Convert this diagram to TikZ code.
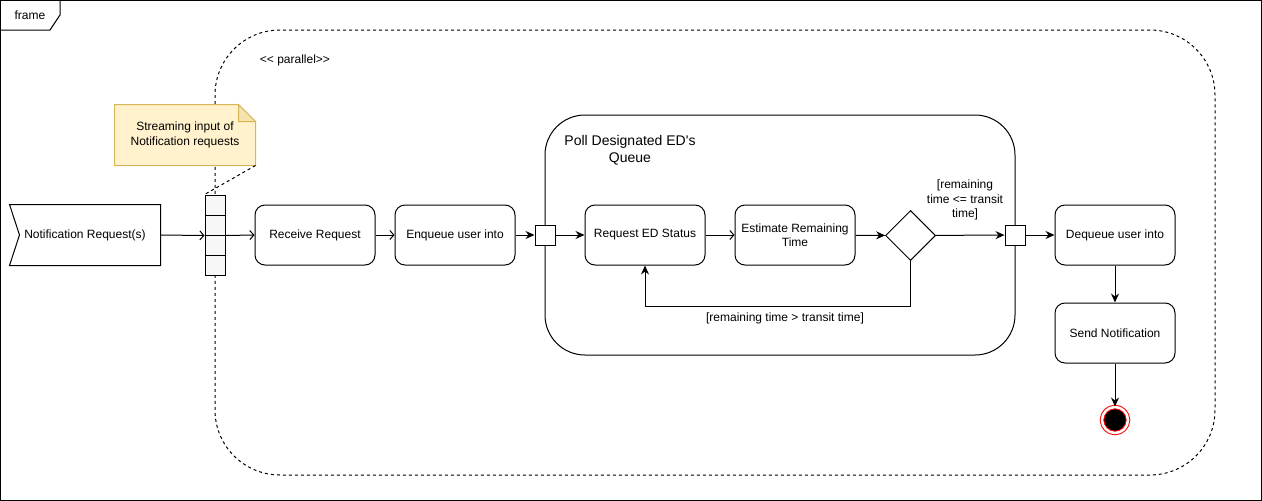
\documentclass[tikz,border=0pt]{standalone}
\usepackage{fontspec}
\setmainfont{Liberation Sans}[Ligatures=TeXOff]
\usetikzlibrary{arrows.meta,shapes.geometric}
\definecolor{notefill}{HTML}{FFF2CC}
\definecolor{noteline}{HTML}{D6B656}
\begin{document}
\begin{tikzpicture}[x=1pt,y=1pt,line width=1pt]
\tikzstyle{every node}+=[inner sep=0pt,font=\fontsize{12}{14.5}\selectfont,align=center]
\tikzstyle{action}=[draw,rectangle,rounded corners=10pt,minimum width=120pt,minimum height=60pt]
\tikzstyle{pinbox}=[draw,fill=white,rectangle,minimum size=20pt]
\tikzstyle{expbox}=[draw,fill=gray!6,rectangle,minimum size=20pt]
\tikzstyle{dash3}=[dash pattern=on 3pt off 3pt]
\tikzstyle{openarr}=[-{Straight Barb[length=4pt,width=9pt]}]
\tikzstyle{fillarr}=[-{Stealth[length=9pt,width=8pt,inset=3pt]}]
\useasboundingbox (0,0) rectangle (1262,-501);
\node [draw,minimum width=1261pt,minimum height=500pt] (frame) at (631,-250.5) {};
\draw (frame.north west) -- ++(60,0) -- ++(0,-15) -- ++(-10,-15) -- ++(-50,0);
\node (framelbl) at (30,-15) {frame};
\node [draw,dash3,rounded corners=65pt,minimum width=1000pt,minimum height=445pt] (par) at (715,-252.5) {};
\node (parlbl) at (295,-60) {<< parallel>>};
\node [draw,rounded corners=40pt,minimum width=470pt,minimum height=240pt] (poll) at (780,-235) {};
\node [font=\fontsize{14}{17}\selectfont] (polllbl) at (630,-150.5) {Poll Designated ED's\\Queue};
\node [minimum width=140pt,minimum height=60pt] (note) at (185,-135) {};
\draw [noteline,fill=notefill] (note.south west) -- (note.north west) -- ([xshift=-17pt]note.north east) -- ([yshift=-17pt]note.north east) -- (note.south east) -- cycle;
\draw [noteline,fill=notefill!75!noteline] ([xshift=-17pt]note.north east) -- ([xshift=-17pt,yshift=-17pt]note.north east) -- ([yshift=-17pt]note.north east) -- cycle;
\node (notetext) at (note) {Streaming input of\\Notification requests};
\node [minimum width=150pt,minimum height=60pt] (req) at (85,-235) {Notification Request(s)};
\draw (req.north west) -- (req.north east) -- (req.south east) -- (req.south west) -- ([xshift=10pt]req.west) -- cycle;
\foreach \i/\y in {1/205,2/225,3/245,4/265}
  \node [expbox] (exp\i) at (215,-\y) {};
\node [action] (recv) at (315,-235) {Receive Request};
\node [action] (enq) at (455,-235) {Enqueue user into};
\node [pinbox] (pinin) at (545,-235) {};
\node [action] (reqst) at (645,-235) {Request ED Status};
\node [action] (est) at (795,-235) {Estimate Remaining\\Time};
\node [draw,diamond,minimum size=50pt,aspect=1] (dec) at (910.5,-235.5) {};
\node [pinbox] (pinout) at (1015,-235) {};
\node [action] (deq) at (1115,-235) {Dequeue user into};
\node [action] (send) at (1115,-333) {Send Notification};
\node [circle,draw=red,double=white,double distance=2.5pt,fill=black,minimum size=26pt] (fin) at (1115,-420) {};
\node (guardok) at (965,-200) {[remaining\\time <= transit\\time]};
\node (guardloop) at (785,-318) {[remaining time > transit time]};
\draw [dash3] (note.south east) -- (exp1.north west);
\draw [openarr] (req.east) -- (exp2.south west);
\draw [openarr] (exp2.south east) -- (recv.west);
\draw [openarr] (recv) -- (enq);
\draw [fillarr] (enq) -- (pinin);
\draw [fillarr] (pinin) -- (reqst);
\draw [openarr] (reqst) -- (est);
\draw [fillarr] (est) -- (dec);
\draw [fillarr] (dec) -- (pinout);
\draw [fillarr] (pinout) -- (deq);
\draw [fillarr] (deq) -- (send);
\draw [fillarr] (send) -- (fin);
\draw [fillarr] (dec.south) -- ++(0,-45) -| (reqst.south);
\end{tikzpicture}
\end{document}
